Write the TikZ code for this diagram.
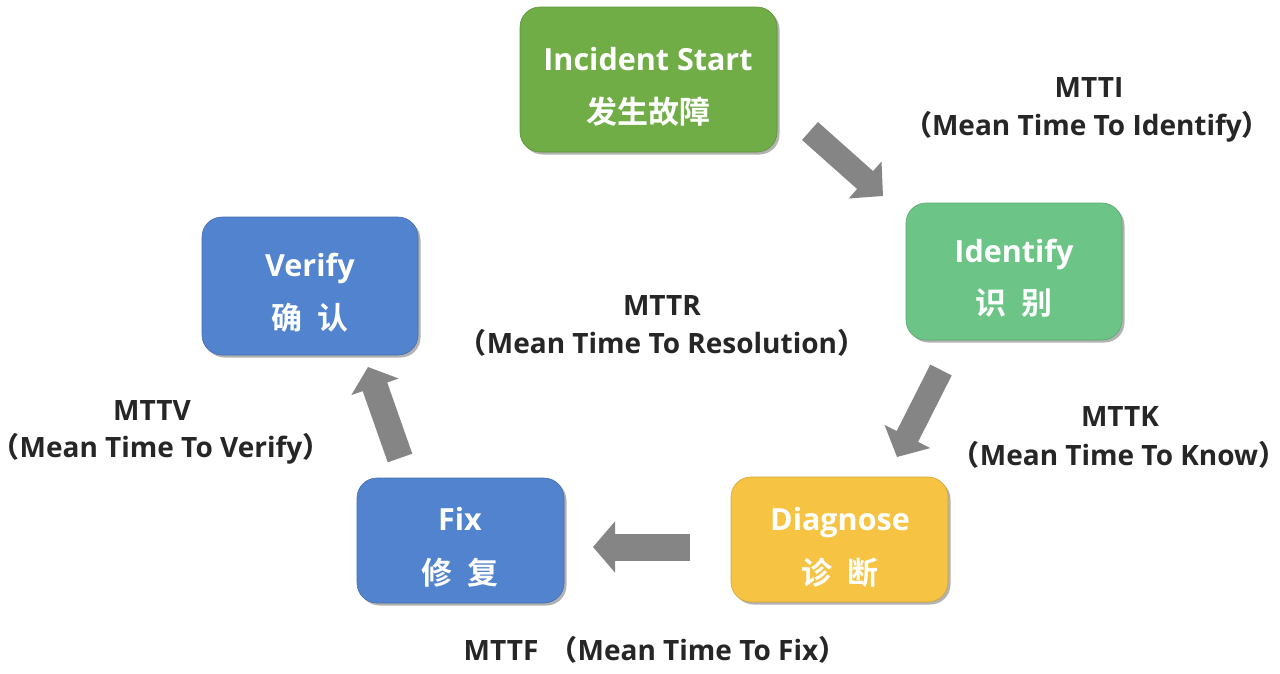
\documentclass[tikz,border=0pt]{standalone}
\usepackage{fontspec}
\setmainfont{Open Sans}[BoldFont={Open Sans Bold}]
\newfontfamily\cjkfont{Noto Sans CJK SC Bold}
\usetikzlibrary{arrows.meta,shadows}
\definecolor{gincident}{HTML}{70AD47}
\definecolor{gidentify}{HTML}{6CC586}
\definecolor{ydiagnose}{HTML}{F6C342}
\definecolor{bfix}{HTML}{5183CE}
\definecolor{arrowgray}{HTML}{858585}
\definecolor{labeltext}{HTML}{262626}
\begin{document}
\begin{tikzpicture}[x=1pt,y=-1pt,
  box/.style={rounded corners=20pt, inner sep=0pt, draw=#1!85!black, line width=0.6pt, fill=#1,
    drop shadow={shadow xshift=2.5pt, shadow yshift=-2.5pt, opacity=0.3, fill=black}},
  title/.style={anchor=base, text=white, font=\fontsize{30.5}{36}\selectfont\bfseries},
  cjktitle/.style={anchor=base, text=white, font=\fontsize{31}{36}\selectfont\cjkfont},
  lbl/.style={anchor=base, text=labeltext, font=\fontsize{28}{32}\selectfont\bfseries},
  blockarrow/.style={draw=arrowgray, fill=arrowgray, line width=#1},
]
\useasboundingbox[fill=white] (0,0) rectangle (1280,673);
% boxes
\node[box=gincident, minimum width=257pt, minimum height=145pt] (inc) at (648.5,79.5) {};
\node[box=gidentify, minimum width=216pt, minimum height=137pt] (ide) at (1014,271.5) {};
\node[box=ydiagnose, minimum width=217pt, minimum height=125pt] (dia) at (839.5,539.5) {};
\node[box=bfix, minimum width=207pt, minimum height=125pt] (fix) at (460.5,540.5) {};
\node[box=bfix, minimum width=216pt, minimum height=138pt] (ver) at (310,286) {};
% box texts
\node[title] (incT) at (648,70) {Incident Start};
\node[cjktitle] (incC) at (648,123) {发生故障};
\node[title] (ideT) at (1014,262) {Identify};
\node[cjktitle] (ideC) at (1014,314) {识\hspace{0.5em}别};
\node[title] (diaT) at (840,530) {Diagnose};
\node[cjktitle] (diaC) at (840,584) {诊\hspace{0.5em}断};
\node[title] (fixT) at (460,530) {Fix};
\node[cjktitle] (fixC) at (460,584) {修\hspace{0.5em}复};
\node[title] (verT) at (310,276) {Verify};
\node[cjktitle] (verC) at (310,329) {确\hspace{0.5em}认};
% arrows
\coordinate (a1s) at (810,131); \coordinate (a1e) at (883,196);
\coordinate (a2s) at (941,370); \coordinate (a2e) at (897,457);
\coordinate (a3s) at (690,547); \coordinate (a3e) at (593,547);
\coordinate (a4s) at (400,458); \coordinate (a4e) at (368,367);
\draw[blockarrow=24pt, -{Triangle[width=48pt,length=24pt]}] (a1s) -- (a1e);
\draw[blockarrow=24pt, -{Triangle[width=50pt,length=23pt]}] (a2s) -- (a2e);
\draw[blockarrow=27pt, -{Triangle[width=50pt,length=22pt]}] (a3s) -- (a3e);
\draw[blockarrow=26pt, -{Triangle[width=49pt,length=21pt]}] (a4s) -- (a4e);
% labels
\node[lbl] (mtti) at (1089,97) {MTTI};
\node[lbl] (mttiL) at (1087,135) {{\cjkfont （}Mean Time To Identify{\cjkfont ）}};
\node[lbl] (mttr) at (662,315) {MTTR};
\node[lbl] (mttrL) at (662,353) {{\cjkfont （}Mean Time To Resolution{\cjkfont ）}};
\node[lbl] (mttk) at (1120,426) {MTTK};
\node[lbl] (mttkL) at (1119,465) {{\cjkfont （}Mean Time To Know{\cjkfont ）}};
\node[lbl] (mttv) at (152,420) {MTTV};
\node[lbl] (mttvL) at (161,457) {{\cjkfont （}Mean Time To Verify{\cjkfont ）}};
\node[lbl] (mttf) at (655,660) {MTTF\hspace{0.4em}{\cjkfont （}Mean Time To Fix{\cjkfont ）}};
\end{tikzpicture}
\end{document}
